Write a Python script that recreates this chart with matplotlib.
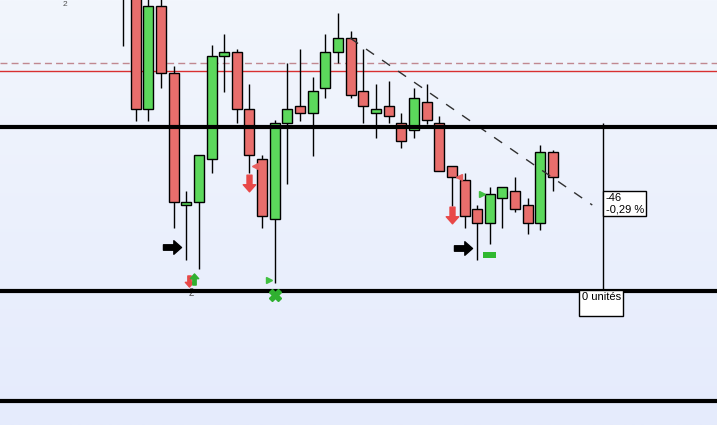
import numpy as np
import matplotlib.pyplot as plt
from matplotlib.path import Path
from matplotlib.patches import Rectangle

plt.rcParams['font.family'] = ['Liberation Sans', 'DejaVu Sans']

# OHLC candles (chart price units)
opens  = [470, 435, 316, 419, 352, 220, 223, 266, 369, 373, 316, 266, 206, 302, 319, 312, 337, 373,
          387, 334, 312, 319, 302, 295, 323, 302, 259, 245, 216, 202, 227, 234, 220, 202, 273]
closes = [440, 316, 419, 352, 223, 223, 270, 369, 373, 316, 270, 209, 302, 316, 312, 334, 373, 387,
          330, 319, 316, 309, 284, 327, 305, 254, 248, 209, 202, 231, 238, 216, 202, 273, 248]
highs  = [480, 450, 432, 432, 359, 234, 270, 380, 391, 376, 341, 270, 305, 362, 376, 348, 391, 412,
          394, 376, 341, 344, 312, 337, 341, 309, 259, 252, 220, 238, 238, 248, 227, 280, 275]
lows   = [379, 304, 304, 337, 197, 165, 156, 252, 333, 302, 252, 197, 142, 241, 304, 269, 327, 362,
          327, 302, 287, 302, 277, 287, 301, 254, 219, 197, 165, 181, 197, 213, 191, 195, 234]

# horizontal levels
black_levels = [298, 134, 24]
red_level = 354
red_dashed_level = 362

# trend line (bar index, price)
trend_x = [17.95, 37.1]
trend_y = [387, 220]

# measurement
measure_x = 37.95
measure_low, measure_high = 134, 302
measure_text = "-46\n-0,29 %"
units_text = "0 unités"

# signal markers (bar index, price)
black_arrows = [(3.9, 178), (26.9, 177)]
red_down_big = [(10.0, 242), (26.0, 210)]
red_down_small = [(5.2, 144)]
green_up_small = [(5.6, 146)]
green_tri_right = [(11.55, 145), (28.4, 231)]
red_tri_left = [(10.45, 259), (26.55, 248)]
green_cross = [(12.0, 130)]
green_rect = [(29.0, 170)]

fig = plt.figure(figsize=(7.17, 4.25), dpi=100)
ax = fig.add_axes([0, 0, 1, 1])
ax.set_xlim(-9.72, 46.96)
ax.set_ylim(0, 425)
ax.axis('off')

# background gradient
grad = np.linspace(0, 1, 256).reshape(-1, 1)
c_top = np.array([0xf2, 0xf6, 0xfd]) / 255
c_bot = np.array([0xe5, 0xeb, 0xfc]) / 255
img = c_top + (c_bot - c_top) * grad[:, :, None]
ax.imshow(img, extent=[-9.72, 46.96, 0, 425], aspect='auto', origin='upper', zorder=0)

# levels
ax.axhline(red_dashed_level, color='#c08890', lw=1, ls=(0, (5, 3)), zorder=1)
ax.axhline(red_level, color='#d83030', lw=1, zorder=1)
for lv in black_levels:
    ax.axhline(lv, color='black', lw=3, zorder=5)

# candles
w = 0.79
for i in range(len(opens)):
    o, c, h, l = opens[i], closes[i], highs[i], lows[i]
    up = c >= o
    ax.vlines(i, l, h, color='black', lw=1, zorder=2)
    col = '#5cd85c' if up else '#e86e6c'
    ax.add_patch(Rectangle((i - w / 2, min(o, c)), w, max(abs(c - o), 1.5),
                           facecolor=col, edgecolor='black', lw=1, zorder=3))

# trend line
ax.plot(trend_x, trend_y, color='#303030', lw=1, ls=(0, (7, 7)), zorder=4)

# measurement line and boxes
ax.vlines(measure_x, measure_low, measure_high, color='black', lw=1, zorder=4)
ax.text(38.15, 232, measure_text, fontsize=8, va='top', ha='left', linespacing=1.15, zorder=6,
        bbox=dict(boxstyle='square,pad=0.2', facecolor='white', edgecolor='black', lw=1))
ax.text(36.25, 133, units_text + "\n ", fontsize=8, va='top', ha='left', linespacing=1.2, zorder=6,
        bbox=dict(boxstyle='square,pad=0.2', facecolor='white', edgecolor='black', lw=1))

# markers
arrow_right = Path([(-1, -0.3), (0.15, -0.3), (0.15, -0.75), (1, 0), (0.15, 0.75),
                    (0.15, 0.3), (-1, 0.3), (-1, -0.3)],
                   [1, 2, 2, 2, 2, 2, 2, 79])
arrow_down = Path([(-0.3, 1), (-0.3, -0.15), (-0.75, -0.15), (0, -1), (0.75, -0.15),
                   (0.3, -0.15), (0.3, 1), (-0.3, 1)],
                  [1, 2, 2, 2, 2, 2, 2, 79])
arrow_up = Path([(x, -y) for x, y in arrow_down.vertices], arrow_down.codes)

for x, y in black_arrows:
    ax.plot(x, y, marker=arrow_right, ms=13, color='black', mec='black', zorder=6)
for x, y in red_down_big:
    ax.plot(x, y, marker=arrow_down, ms=12, color='#e84848', mec='#e84848', zorder=6)
for x, y in red_down_small:
    ax.plot(x, y, marker=arrow_down, ms=8, color='#e84848', mec='#e84848', zorder=6)
for x, y in green_up_small:
    ax.plot(x, y, marker=arrow_up, ms=8, color='#30b030', mec='#30b030', zorder=6)
for x, y in green_tri_right:
    ax.plot(x, y, marker='>', ms=4, color='#40c040', mec='#40c040', zorder=6)
for x, y in red_tri_left:
    ax.plot(x, y, marker='<', ms=4, color='#e86060', mec='#e86060', zorder=6)
for x, y in green_cross:
    ax.plot(x, y, marker='X', ms=8, color='#30b030', mec='#30b030', zorder=6)
for x, y in green_rect:
    ax.add_patch(Rectangle((x - 0.5, y - 3), 1.0, 6, facecolor='#30b830', edgecolor='none', zorder=6))

# small counters
ax.text(-4.6, 424, "2", fontsize=6, color='#505050', ha='center', va='top', zorder=6)
ax.text(5.4, 132, "2", fontsize=7, color='#505050', ha='center', va='center', zorder=4)

plt.savefig("out.png", dpi=100)
